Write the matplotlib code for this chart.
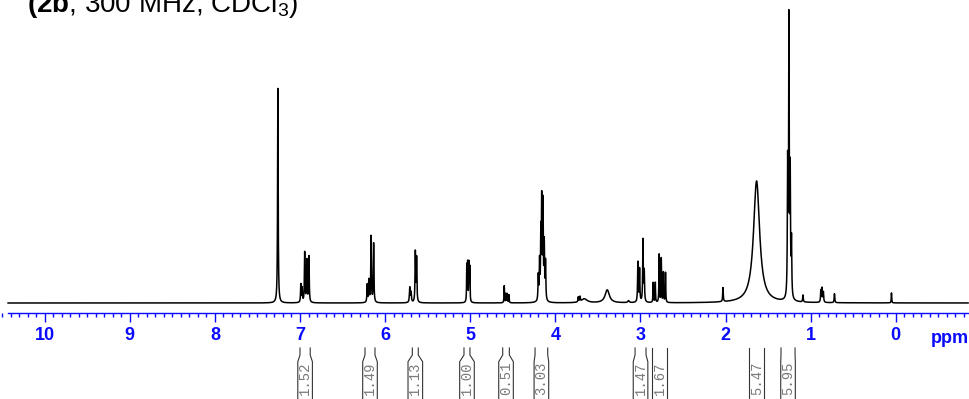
# -*- coding: utf-8 -*-
# 1H NMR spectrum of 2b (300 MHz, CDCl3) with integrals

import numpy as np
import matplotlib.pyplot as plt
from matplotlib.ticker import MultipleLocator

plt.rcParams['font.family'] = 'Liberation Sans'
plt.rcParams['mathtext.fontset'] = 'custom'
plt.rcParams['mathtext.rm'] = 'Liberation Sans'
plt.rcParams['mathtext.bf'] = 'Liberation Sans:bold'

# peak list: shift (ppm), height (a.u.), half width at half height (ppm)
peak_ppm = [7.26,
            6.99, 6.975, 6.945, 6.92, 6.895,
            6.21, 6.19, 6.165, 6.135,
            5.71, 5.695, 5.645, 5.63,
            5.04, 5.03, 5.015, 5.005,
            4.60, 4.58, 4.565, 4.545,
            4.20, 4.185, 4.17, 4.16, 4.145, 4.13, 4.115,
            3.73, 3.71, 3.66, 3.39, 3.14,
            3.03, 3.01, 2.97, 2.955,
            2.85, 2.825, 2.78, 2.755, 2.73, 2.705,
            2.03, 1.635,
            1.27, 1.255, 1.24, 1.225,
            1.09, 0.88, 0.865, 0.85, 0.72, 0.05]
peak_height = [215,
               18, 14, 50, 42, 46,
               18, 22, 66, 59,
               15, 10, 50, 44,
               36, 38, 38, 34,
               17, 9, 9, 8,
               25, 38, 62, 95, 95, 55, 38,
               5, 5, 4, 13, 2,
               40, 33, 62, 30,
               20, 20, 48, 44, 30, 30,
               14, 122,
               130, 275, 120, 55,
               7, 12, 14, 10, 9, 10]
peak_hwhm = [0.004,
             0.004, 0.004, 0.004, 0.004, 0.004,
             0.004, 0.004, 0.004, 0.004,
             0.005, 0.005, 0.004, 0.004,
             0.003, 0.003, 0.003, 0.003,
             0.003, 0.003, 0.003, 0.003,
             0.004, 0.004, 0.004, 0.004, 0.004, 0.004, 0.004,
             0.004, 0.004, 0.04, 0.03, 0.01,
             0.004, 0.004, 0.004, 0.004,
             0.003, 0.003, 0.003, 0.003, 0.003, 0.003,
             0.004, 0.043,
             0.004, 0.004, 0.004, 0.004,
             0.004, 0.004, 0.004, 0.004, 0.004, 0.003]

# integral regions (start ppm, end ppm) and their values
int_start = [7.00, 6.236, 5.68, 5.073, 4.618, 4.238, 3.063, 2.86, 1.72, 1.348]
int_end = [6.88, 6.119, 5.61, 5.003, 4.54, 4.089, 2.934, 2.684, 1.544, 1.183]
int_value = ['1.52', '1.49', '1.13', '1.00', '0.51', '3.03', '1.47', '1.67', '5.47', '5.95']

blue = '#0a0aff'
px = 1 / 85.1  # one pixel in ppm

# Build the trace from the Lorentzian lines
ppm = np.linspace(10.43, -0.85, 24000)
spec = np.zeros_like(ppm)
for p, h, w in zip(peak_ppm, peak_height, peak_hwhm):
    spec += h * w**2 / ((ppm - p)**2 + w**2)

fig = plt.figure(figsize=(9.69, 3.99), dpi=100)
ax = fig.add_axes([0, 0, 1, 1])
ax.plot(ppm, spec, color='black', lw=1.1)
ax.set_xlim(10.525, -0.861)
ax.set_ylim(-96, 303)

# ppm axis drawn as a free spine under the spectrum
for s in ['top', 'left', 'right']:
    ax.spines[s].set_visible(False)
ax.spines['bottom'].set_position(('data', -9.7))
ax.spines['bottom'].set_bounds(10.43, -0.85)
ax.spines['bottom'].set_color(blue)
ax.spines['bottom'].set_linewidth(1.0)
ax.set_yticks([])
ax.set_xticks(range(0, 11))
ax.xaxis.set_minor_locator(MultipleLocator(0.1))
ax.tick_params(axis='x', which='major', direction='out', length=6.5, width=1,
               color=blue, labelcolor=blue, labelsize=13, pad=4)
ax.tick_params(axis='x', which='minor', direction='out', length=3, width=1, color=blue)
for lab in ax.get_xticklabels():
    lab.set_fontweight('bold')
ax.text(-0.638, -40, 'ppm', color=blue, fontsize=13, fontweight='bold',
        ha='center', va='baseline')

# integral brackets with rotated values
min_half = 7.3 * px
for a, b, v in zip(int_start, int_end, int_value):
    c = (a + b) / 2
    hw = max((a - b) / 2, min_half)
    ax.plot([a, a, c + hw, c + hw], [-45, -52, -58.7, -97], color='#333333', lw=0.8, clip_on=False)
    ax.plot([b, b, c - hw, c - hw], [-45, -52, -58.7, -97], color='#333333', lw=0.8, clip_on=False)
    ax.text(c, -75, v, rotation=90, ha='center', va='center', color='#7a7a7a',
            family='Liberation Mono', fontsize=10)

# sample label, runs off the top edge
fig.text(27 / 969, 1 - 12.3 / 399, r'$\mathbf{(2b}$, 300 MHz, CDCl$_3$)',
         fontsize=20, ha='left', va='baseline')

fig.savefig('out.png', dpi=100)
